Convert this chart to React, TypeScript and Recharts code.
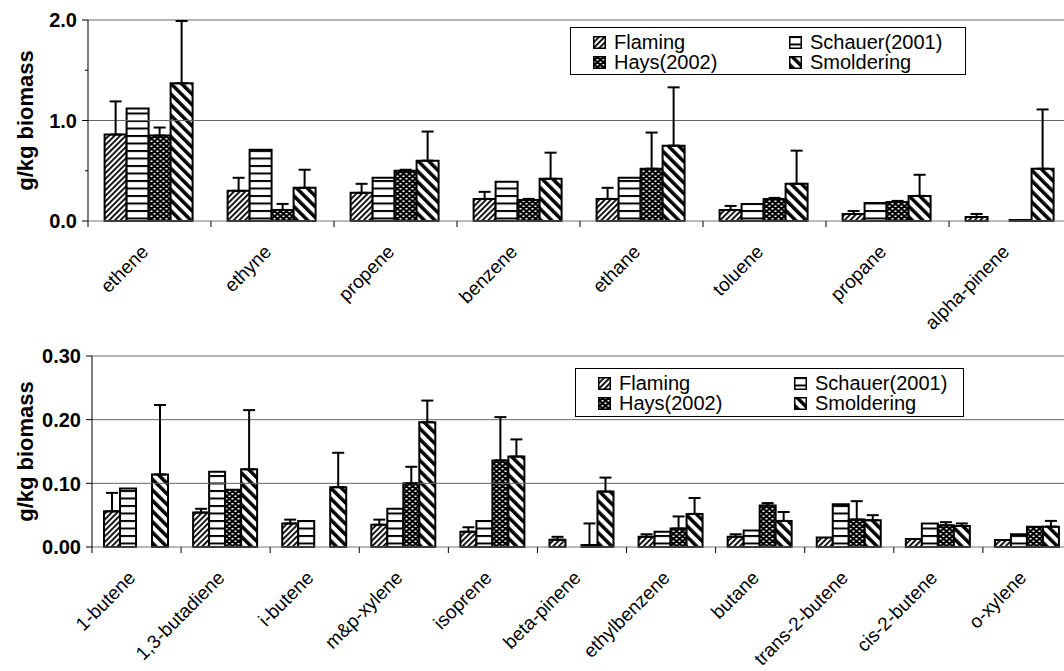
import React from "react";
import { BarChart, Bar, XAxis, YAxis, ErrorBar, ReferenceLine } from "recharts";

const FONT = '"Liberation Sans", Arial, Helvetica, sans-serif';

// upper panel
const topCategories = ["ethene", "ethyne", "propene", "benzene", "ethane", "toluene", "propane", "alpha-pinene"];
const topFlaming = [0.86, 0.3, 0.28, 0.22, 0.22, 0.11, 0.07, 0.04];
const topFlamingErr = [0.33, 0.13, 0.09, 0.07, 0.11, 0.04, 0.03, 0.03];
const topSchauer = [1.12, 0.71, 0.43, 0.39, 0.43, 0.17, 0.18, null];
const topHays = [0.85, 0.11, 0.5, 0.21, 0.52, 0.22, 0.19, 0.01];
const topHaysErr = [0.08, 0.06, 0.01, 0.01, 0.36, 0.01, 0.01, null];
const topSmold = [1.37, 0.33, 0.6, 0.42, 0.75, 0.37, 0.25, 0.52];
const topSmoldErr = [0.62, 0.18, 0.29, 0.26, 0.58, 0.33, 0.21, 0.59];
const topTicks = [0, 0.5, 1, 1.5, 2];
const topGrid = [1, 2];

// lower panel
const botCategories = [
  "1-butene", "1,3-butadiene", "i-butene", "m&p-xylene", "isoprene", "beta-pinene",
  "ethylbenzene", "butane", "trans-2-butene", "cis-2-butene", "o-xylene",
];
const botFlaming = [0.056, 0.054, 0.037, 0.035, 0.024, 0.0115, 0.016, 0.016, 0.015, 0.0125, 0.011];
const botFlamingErr = [0.029, 0.006, 0.006, 0.008, 0.007, 0.0045, 0.004, 0.004, null, null, null];
const botSchauer = [0.092, 0.118, 0.041, 0.06, 0.041, null, 0.024, 0.026, 0.067, 0.037, 0.02];
const botHays = [null, 0.09, null, 0.1, 0.136, 0.003, 0.029, 0.065, 0.043, 0.034, 0.032];
const botHaysErr = [null, null, null, 0.026, 0.068, 0.034, 0.019, 0.004, 0.029, 0.005, null];
const botSmold = [0.114, 0.122, 0.094, 0.196, 0.142, 0.087, 0.052, 0.041, 0.042, 0.033, 0.032];
const botSmoldErr = [0.109, 0.093, 0.054, 0.034, 0.027, 0.022, 0.025, 0.014, 0.008, 0.004, 0.009];
const botTicks = [0, 0.1, 0.2, 0.3];
const botGrid = [0.1, 0.2, 0.3];

const series = [
  { key: "flaming", name: "Flaming", fill: "url(#pFlaming)" },
  { key: "schauer", name: "Schauer(2001)", fill: "url(#pSchauer)" },
  { key: "hays", name: "Hays(2002)", fill: "url(#pHays)" },
  { key: "smold", name: "Smoldering", fill: "url(#pSmold)" },
];

const up = (e: number | null) => (e == null ? null : [0, e]);

const build = (cats: string[], f: any[], fe: any[], s: any[], h: any[], he: any[], m: any[], me: any[]) =>
  cats.map((name, i) => ({
    name,
    flaming: f[i],
    flamingErr: up(fe[i]),
    schauer: s[i],
    hays: h[i],
    haysErr: up(he[i]),
    smold: m[i],
    smoldErr: up(me[i]),
  }));

const topData = build(topCategories, topFlaming, topFlamingErr, topSchauer, topHays, topHaysErr, topSmold, topSmoldErr);
const botData = build(botCategories, botFlaming, botFlamingErr, botSchauer, botHays, botHaysErr, botSmold, botSmoldErr);

const CHART_W = 1080;
const RIGHT = 8;
const TICK_SIZE = 6;
const TICK_MARGIN = 5;

function Patterns() {
  return (
    <svg width={0} height={0} style={{ position: "absolute" }}>
      <defs>
        <pattern id="pFlaming" patternUnits="userSpaceOnUse" width={4} height={4} patternTransform="rotate(45)">
          <rect width={4} height={4} fill="#fff" />
          <rect width={1.8} height={4} fill="#000" />
        </pattern>
        <pattern id="pSchauer" patternUnits="userSpaceOnUse" width={8} height={7.5}>
          <rect width={8} height={7.5} fill="#fff" />
          <rect width={8} height={2} fill="#000" />
        </pattern>
        <pattern id="pHays" patternUnits="userSpaceOnUse" width={6} height={5}>
          <rect width={6} height={5} fill="#000" />
          <rect x={0.5} y={0.5} width={2} height={1.5} fill="#fff" />
          <rect x={3.5} y={3} width={2} height={1.5} fill="#fff" />
        </pattern>
        <pattern id="pSmold" patternUnits="userSpaceOnUse" width={7.5} height={7.5} patternTransform="rotate(-45)">
          <rect width={7.5} height={7.5} fill="#fff" />
          <rect width={3.5} height={7.5} fill="#000" />
        </pattern>
      </defs>
    </svg>
  );
}

const YTick = (props: any) => {
  const { x, y, payload, isMajor, fmt } = props;
  const axisX = x + TICK_SIZE + TICK_MARGIN;
  const major = isMajor(payload.value);
  return (
    <g>
      <line x1={axisX - (major ? 6 : 3)} x2={axisX} y1={y} y2={y} stroke="#000" strokeWidth={1} />
      {major && (
        <text x={x} y={y} dy="0.36em" textAnchor="end" fontFamily={FONT} fontSize={20} fontWeight="bold" fill="#000">
          {fmt(payload.value)}
        </text>
      )}
    </g>
  );
};

const XTick = (props: any) => {
  const { x, y, payload, band } = props;
  const bx = x - band / 2;
  const ty = y + 32;
  return (
    <g>
      <line x1={bx} x2={bx} y1={y} y2={y + 6} stroke="#000" strokeWidth={1} />
      <text x={x} y={ty} textAnchor="end" transform={`rotate(-45 ${x} ${ty})`} fontFamily={FONT} fontSize={19} fill="#000">
        {payload.value}
      </text>
    </g>
  );
};

const YTitle = (props: any) => {
  const vb = props.viewBox || { x: 0, y: 0, height: 200 };
  const cx = vb.x + 25;
  const cy = vb.y + vb.height / 2;
  return (
    <text x={cx} y={cy} transform={`rotate(-90 ${cx} ${cy})`} textAnchor="middle" dominantBaseline="central" fontFamily={FONT} fontSize={22} fontWeight="bold" fill="#000">
      g/kg biomass
    </text>
  );
};

function Swatch({ fill }: { fill: string }) {
  return (
    <svg width={13} height={13} style={{ marginRight: 8, flex: "none" }}>
      <rect x={0.75} y={0.75} width={11.5} height={11.5} fill={fill} stroke="#000" strokeWidth={1.5} />
    </svg>
  );
}

function LegendBox({ top, left, width, height }: { top: number; left: number; width: number; height: number }) {
  return (
    <div
      style={{
        position: "absolute", top, left, width, height, boxSizing: "border-box",
        border: "1px solid #000", background: "#fff", padding: "4px 0 0 22px",
        display: "grid", gridTemplateColumns: "196px 1fr", gridAutoRows: "20px",
        fontFamily: FONT, fontSize: 20, lineHeight: "20px", color: "#000",
      }}
    >
      {series.map((s) => (
        <div key={s.key} style={{ display: "flex", alignItems: "center", whiteSpace: "nowrap" }}>
          <Swatch fill={s.fill} />
          <span>{s.name}</span>
        </div>
      ))}
    </div>
  );
}

function Panel(props: {
  data: any[]; height: number; top: number; bottom: number; yWidth: number; xHeight: number;
  domain: [number, number]; ticks: number[]; grid: number[]; isMajor: (v: number) => boolean; fmt: (v: number) => string;
}) {
  const { data, height, top, bottom, yWidth, xHeight, domain, ticks, grid, isMajor, fmt } = props;
  const band = (CHART_W - RIGHT - yWidth) / data.length;
  return (
    <BarChart width={CHART_W} height={height} data={data} margin={{ top, right: RIGHT, bottom, left: 0 }} barCategoryGap="13.5%" barGap={0}>
      {grid.map((g) => (
        <ReferenceLine key={g} y={g} stroke="#666" strokeWidth={1} />
      ))}
      <XAxis
        dataKey="name"
        interval={0}
        height={xHeight}
        tickSize={0}
        tickMargin={0}
        axisLine={{ stroke: "#777", strokeWidth: 1 }}
        tickLine={false}
        tick={(p: any) => <XTick {...p} band={band} />}
      />
      <YAxis
        width={yWidth}
        domain={domain}
        ticks={ticks}
        interval={0}
        tickSize={TICK_SIZE}
        tickMargin={TICK_MARGIN}
        tickLine={false}
        axisLine={{ stroke: "#000", strokeWidth: 1 }}
        tick={(p: any) => <YTick {...p} isMajor={isMajor} fmt={fmt} />}
        label={{ content: (p: any) => <YTitle {...p} /> }}
      />
      {series.map((s) => (
        <Bar key={s.key} dataKey={s.key} name={s.name} fill={s.fill} stroke="#000" strokeWidth={2} isAnimationActive={false}>
          {s.key !== "schauer" && (
            <ErrorBar dataKey={`${s.key}Err`} direction="y" width={6} stroke="#000" strokeWidth={2} isAnimationActive={false} />
          )}
        </Bar>
      ))}
    </BarChart>
  );
}

export default function App() {
  return (
    <div style={{ position: "absolute", left: 0, top: 0, width: 1064, height: 671, overflow: "hidden", background: "#fff" }}>
      <Patterns />
      <div style={{ position: "absolute", left: 0, top: 0 }}>
        <Panel
          data={topData}
          height={340}
          top={20}
          bottom={9}
          yWidth={88}
          xHeight={110}
          domain={[0, 2]}
          ticks={topTicks}
          grid={topGrid}
          isMajor={(v) => Number.isInteger(v)}
          fmt={(v) => v.toFixed(1)}
        />
      </div>
      <div style={{ position: "absolute", left: 0, top: 340 }}>
        <Panel
          data={botData}
          height={331}
          top={16}
          bottom={4}
          yWidth={92}
          xHeight={120}
          domain={[0, 0.3]}
          ticks={botTicks}
          grid={botGrid}
          isMajor={() => true}
          fmt={(v) => v.toFixed(2)}
        />
      </div>
      <LegendBox top={27} left={570} width={396} height={48} />
      <LegendBox top={368} left={575} width={389} height={49} />
    </div>
  );
}
